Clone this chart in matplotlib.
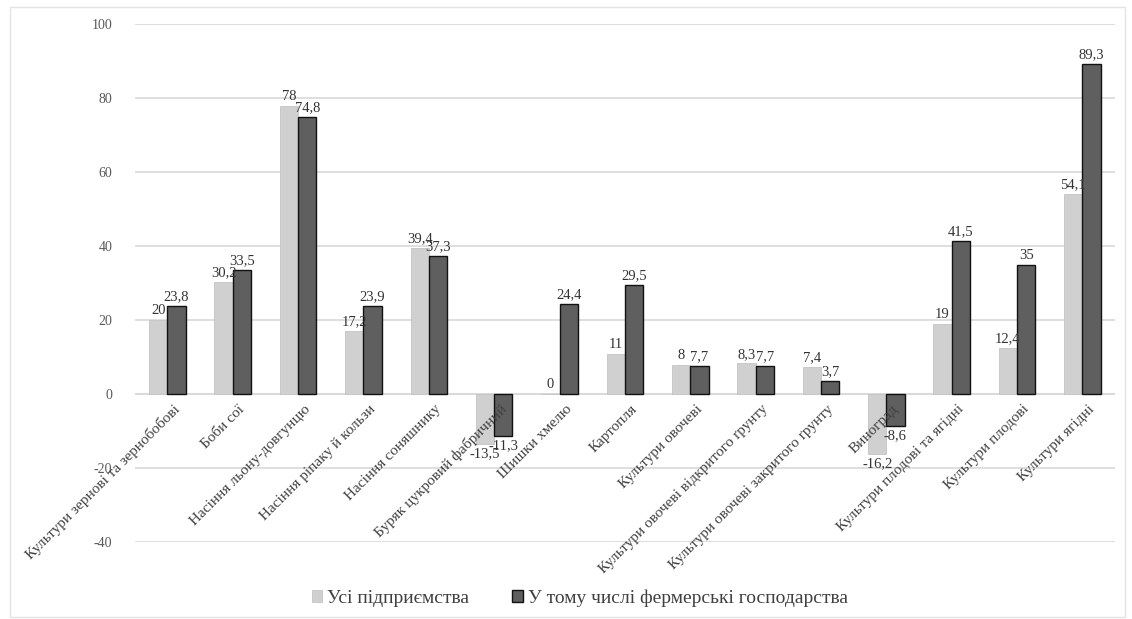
import matplotlib.pyplot as plt
import matplotlib.patches as patches
import numpy as np

plt.rcParams['font.family'] = ['Liberation Serif', 'DejaVu Serif']
plt.rcParams['axes.unicode_minus'] = False

# crops and growth values, %
crops = ["Культури зернові та зернобобові", "Боби сої", "Насіння льону-довгунцю",
         "Насіння ріпаку й кользи", "Насіння соняшнику", "Буряк цукровий фабричний",
         "Шишки хмелю", "Картопля", "Культури овочеві",
         "Культури овочеві відкритого ґрунту", "Культури овочеві закритого ґрунту",
         "Виноград", "Культури плодові та ягідні", "Культури плодові", "Культури ягідні"]
all_firms = [20, 30.2, 78, 17.2, 39.4, -13.5, 0, 11, 8, 8.3, 7.4, -16.2, 19, 12.4, 54.1]
farms = [23.8, 33.5, 74.8, 23.9, 37.3, -11.3, 24.4, 29.5, 7.7, 7.7, 3.7, -8.6, 41.5, 35, 89.3]
series_names = ["Усі підприємства", "У тому числі фермерські господарства"]
yticks = [-40, -20, 0, 20, 40, 60, 80, 100]

txt = '#595959'
fig = plt.figure(figsize=(11.32, 6.19), dpi=100)
ax = fig.add_axes([0.119, 0.124, 0.866, 0.837])

x = np.arange(len(crops))
w = 0.28
b1 = ax.bar(x - w/2, all_firms, w, color='#d0d0d0', edgecolor='#c4c4c4', linewidth=0.6,
            label=series_names[0], zorder=2)
b2 = ax.bar(x + w/2, farms, w, color='#5f5f5f', edgecolor='#111111', linewidth=1.0,
            label=series_names[1], zorder=2)

def fmt(v):
    return f"{v:g}".replace('.', ',')

for bars, vals in ((b1, all_firms), (b2, farms)):
    for r, v in zip(bars, vals):
        xc = r.get_x() + r.get_width()/2
        if v >= 0:
            ax.annotate(fmt(v), (xc, v), xytext=(0, 2), textcoords='offset points',
                        ha='center', va='bottom', fontsize=10.5, color='#333333', zorder=4)
        else:
            ax.annotate(fmt(v), (xc, v), xytext=(0, -2), textcoords='offset points',
                        ha='center', va='top', fontsize=10.5, color='#333333', zorder=4)

ax.set_xlim(-0.5, len(crops) - 0.5)
ax.set_ylim(-40, 100)
ax.set_yticks(yticks)
ax.yaxis.grid(True, color='#d9d9d9', linewidth=1.2, zorder=0)
ax.set_axisbelow(True)
ax.tick_params(axis='y', length=0, pad=16, labelsize=10, labelcolor=txt)
ax.set_xticks([])
for s in ax.spines.values():
    s.set_visible(False)
ax.axhline(0, color='#d9d9d9', linewidth=1.2, zorder=1)

# category names sit along the zero line, rotated like the spreadsheet axis
for i, name in enumerate(crops):
    ax.annotate(name, (i, 0), xytext=(4, -6), textcoords='offset points',
                ha='right', va='top', rotation=45, rotation_mode='anchor',
                fontsize=11, color='#404040', zorder=3)

fig.legend(loc='center', bbox_to_anchor=(0.512, 0.034), ncol=2, frameon=False,
           fontsize=14, handlelength=0.55, handleheight=0.55, handletextpad=0.25,
           columnspacing=2.2, labelcolor='#404040')

fig.patches.append(patches.Rectangle((0.009, 0.003), 0.985, 0.985, transform=fig.transFigure,
                                     fill=False, edgecolor='#e4e4e4', linewidth=1.0))

fig.savefig('out.png', dpi=100)
